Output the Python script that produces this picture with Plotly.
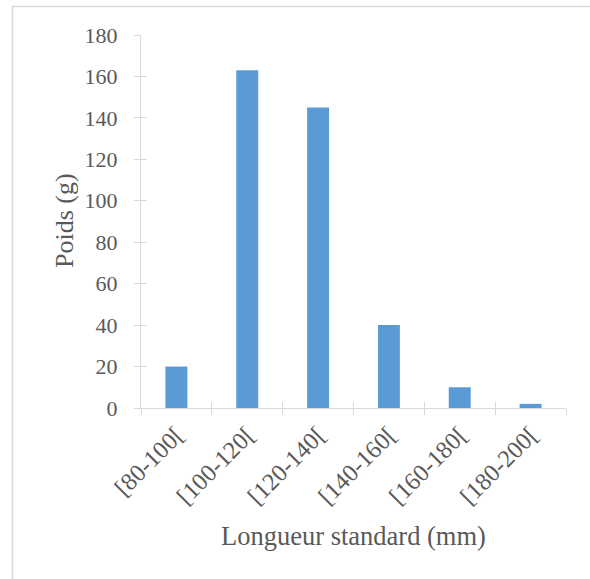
import plotly.graph_objects as go

categories = ["[80-100[", "[100-120[", "[120-140[", "[140-160[", "[160-180[", "[180-200["]
poids = [20, 163, 145, 40, 10, 2]
y_ticks = [0, 20, 40, 60, 80, 100, 120, 140, 160, 180]

W, H = 590, 579
L, R, T, B = 141, 24, 35, 171
pw, ph = W - L - R, H - T - B

def px_x(p):
    return (p - L) / pw

def px_y(p):
    return (H - B - p) / ph

font_family = "Liberation Serif, Times New Roman, serif"
txt = "#595959"
grid = "#D9D9D9"

fig = go.Figure()
fig.add_trace(go.Bar(x=categories, y=poids, marker=dict(color="#5B9BD5", line=dict(width=0)),
                     width=0.31, hoverinfo="x+y"))

n = len(categories)
fig.update_layout(
    width=W, height=H,
    margin=dict(l=L, r=R, t=T, b=B),
    paper_bgcolor="white", plot_bgcolor="white",
    showlegend=False,
    font=dict(family=font_family, color=txt),
    xaxis=dict(type="category", categoryorder="array", categoryarray=categories,
               range=[-0.5, n - 0.5], tickson="boundaries", ticks="outside", ticklen=6,
               tickcolor=grid, tickwidth=1, showline=True, linecolor=grid, linewidth=1,
               showgrid=False, tickangle=-45, ticklabelstandoff=2,
               tickfont=dict(size=24.5, color=txt, family=font_family)),
    yaxis=dict(range=[0, 180], tickvals=y_ticks, ticks="outside", ticklen=6, tickcolor=grid,
               tickwidth=1, showline=True, linecolor=grid, linewidth=1, showgrid=False,
               zeroline=False, ticklabelstandoff=12,
               tickfont=dict(size=22, color=txt, family=font_family)),
    xaxis2=dict(overlaying="x", range=[-0.5, n - 0.5], tickvals=[i - 0.5 for i in range(n + 1)],
                ticks="inside", ticklen=6, tickcolor=grid, tickwidth=1, showticklabels=False,
                showline=False, showgrid=False, zeroline=False),
    yaxis2=dict(overlaying="y", range=[0, 180], tickvals=y_ticks, ticks="inside", ticklen=6,
                tickcolor=grid, tickwidth=1, showticklabels=False, showline=False,
                showgrid=False, zeroline=False),
)

# invisible traces to activate the overlay axes
fig.add_trace(go.Scatter(x=[0], y=[0], xaxis="x2", yaxis="y2", mode="markers",
                         marker=dict(opacity=0), hoverinfo="skip", showlegend=False))

fig.add_annotation(text="Poids (g)", xref="paper", yref="paper", x=px_x(64), y=px_y(221),
                   textangle=-90, showarrow=False, font=dict(size=26, color=txt, family=font_family),
                   xanchor="center", yanchor="middle")
fig.add_annotation(text="Longueur standard (mm)", xref="paper", yref="paper", x=px_x(353),
                   y=px_y(536), showarrow=False, font=dict(size=26.5, color=txt, family=font_family),
                   xanchor="center", yanchor="middle")

fig.add_shape(type="rect", xref="paper", yref="paper", x0=px_x(12.5), y0=px_y(600),
              x1=px_x(620), y1=px_y(6.5), line=dict(color=grid, width=1.5), layer="below")

fig.write_html("out.html", config={"displayModeBar": False},
               post_script="document.body.style.margin='0';document.body.style.overflow='hidden';")
